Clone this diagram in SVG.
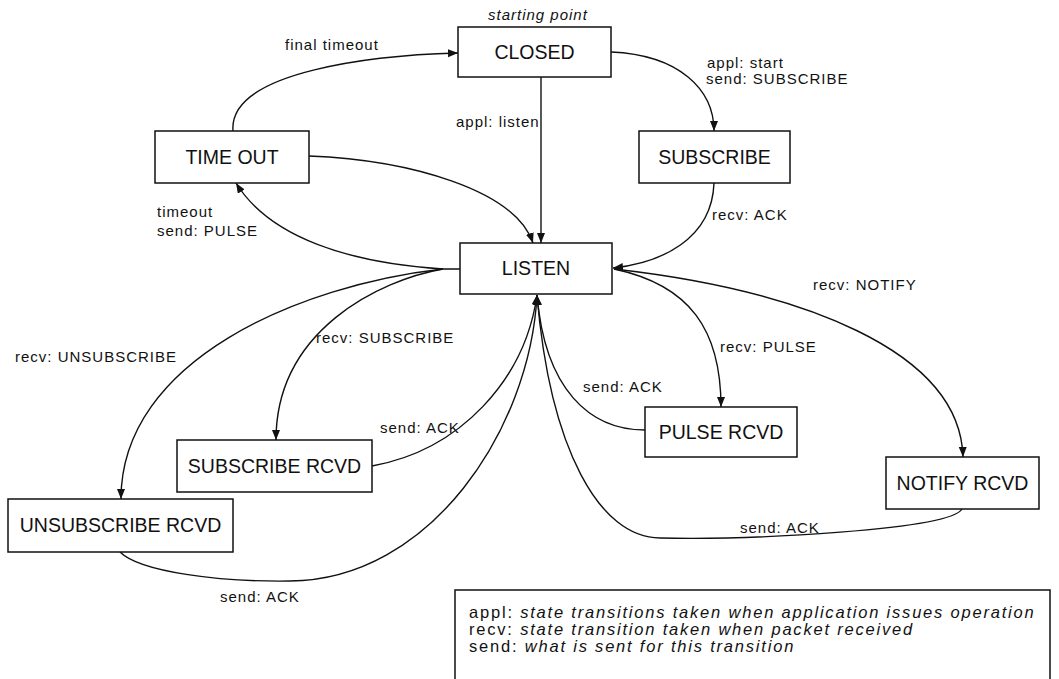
<svg xmlns="http://www.w3.org/2000/svg" width="1059" height="679" viewBox="0 0 1059 679">
  <style>
    .box { fill: #fff; stroke: #111; stroke-width: 1.5; }
    .node { font-family: "Liberation Sans", Arial, sans-serif; font-size: 19.5px; fill: #111; text-anchor: middle; }
    .lbl { font-family: "Liberation Sans", Arial, sans-serif; font-size: 15px; letter-spacing: 1px; fill: #111; }
    .edge { fill: none; stroke: #111; stroke-width: 1.4; }
    .arr { marker-end: url(#head); }
    .legend { font-family: "Liberation Sans", Arial, sans-serif; font-size: 16.5px; letter-spacing: 1.8px; fill: #111; }
    .it { font-style: italic; }
  </style>
  <defs>
    <marker id="head" markerUnits="userSpaceOnUse" markerWidth="11" markerHeight="9" refX="10" refY="4" orient="auto">
      <path d="M0,0 L10,4 L0,8 z" fill="#111"/>
    </marker>
  </defs>
  <rect width="1059" height="679" fill="#fff"/>

  <!-- transitions -->
  <g id="connectors">
    <!-- CLOSED -> LISTEN -->
    <path class="edge arr" d="M541,77 L541,243"/>
    <!-- TIME OUT -> LISTEN -->
    <path class="edge arr" d="M309,156 C 410,160 515,190 533,243"/>
    <!-- TIME OUT -> CLOSED -->
    <path class="edge arr" d="M233,131 C 228,70 380,55 458,53"/>
    <!-- LISTEN -> TIME OUT -->
    <path class="edge arr" d="M460,269 L443,269 C 350,263 270,238 236,183"/>
    <!-- CLOSED -> SUBSCRIBE -->
    <path class="edge arr" d="M611,52 C 680,55 714,90 714,131"/>
    <!-- SUBSCRIBE -> LISTEN -->
    <path class="edge arr" d="M714,183 C 712,240 660,263 613,268"/>
    <!-- LISTEN -> NOTIFY RCVD -->
    <path class="edge arr" d="M614,269 C 800,290 960,350 963,457"/>
    <!-- LISTEN -> PULSE RCVD -->
    <path class="edge arr" d="M614,269 C 690,285 721,330 721,407"/>
    <!-- PULSE RCVD -> LISTEN -->
    <path class="edge arr" d="M645,430 C 590,430 545,390 537,295"/>
    <!-- LISTEN -> SUBSCRIBE RCVD -->
    <path class="edge arr" d="M443,269 C 380,280 276,330 276,440"/>
    <!-- SUBSCRIBE RCVD -> LISTEN -->
    <path class="edge arr" d="M372,466 C 460,450 525,380 537,295"/>
    <!-- LISTEN -> UNSUBSCRIBE RCVD -->
    <path class="edge arr" d="M443,269 C 300,285 121,360 121,499"/>
    <!-- UNSUBSCRIBE RCVD -> LISTEN -->
    <path class="edge arr" d="M120,552 C 140,572 220,582 290,581 C 430,580 530,430 537,295"/>
    <!-- NOTIFY RCVD -> LISTEN -->
    <path class="edge arr" d="M962,509 C 950,530 750,540 660,538 C 600,538 550,450 537,295"/>
  </g>

  <!-- transition labels -->
  <g id="edge-labels">
    <text class="lbl it" x="488" y="20">starting point</text>
    <text class="lbl" x="285" y="50">final timeout</text>
    <text class="lbl" x="456" y="127">appl: listen</text>
    <text class="lbl" x="707" y="68">appl: start</text>
    <text class="lbl" x="706" y="84">send: SUBSCRIBE</text>
    <text class="lbl" x="157" y="217">timeout</text>
    <text class="lbl" x="157" y="236">send: PULSE</text>
    <text class="lbl" x="712" y="220">recv: ACK</text>
    <text class="lbl" x="813" y="290">recv: NOTIFY</text>
    <text class="lbl" x="720" y="352">recv: PULSE</text>
    <text class="lbl" x="583" y="392">send: ACK</text>
    <text class="lbl" x="316" y="343">recv: SUBSCRIBE</text>
    <text class="lbl" x="380" y="433">send: ACK</text>
    <text class="lbl" x="15" y="362">recv: UNSUBSCRIBE</text>
    <text class="lbl" x="220" y="602">send: ACK</text>
    <text class="lbl" x="740" y="533">send: ACK</text>
  </g>

  <!-- states -->
  <g id="closed">
    <rect class="box" x="458" y="27" width="153" height="50"/>
    <text class="node" x="534.5" y="59">CLOSED</text>
  </g>
  <g id="time-out">
    <rect class="box" x="155" y="131" width="154" height="52"/>
    <text class="node" x="232" y="164">TIME OUT</text>
  </g>
  <g id="subscribe">
    <rect class="box" x="639" y="131" width="151" height="52"/>
    <text class="node" x="714.5" y="164">SUBSCRIBE</text>
  </g>
  <g id="listen">
    <rect class="box" x="460" y="243" width="152" height="51"/>
    <text class="node" x="536" y="275">LISTEN</text>
  </g>
  <g id="pulse-rcvd">
    <rect class="box" x="645" y="407" width="152" height="50"/>
    <text class="node" x="721" y="439">PULSE RCVD</text>
  </g>
  <g id="notify-rcvd">
    <rect class="box" x="886" y="457" width="153" height="52"/>
    <text class="node" x="962.5" y="490">NOTIFY RCVD</text>
  </g>
  <g id="subscribe-rcvd">
    <rect class="box" x="177" y="440" width="195" height="52"/>
    <text class="node" x="274.5" y="473">SUBSCRIBE RCVD</text>
  </g>
  <g id="unsubscribe-rcvd">
    <rect class="box" x="8" y="499" width="225" height="53"/>
    <text class="node" x="120.5" y="532">UNSUBSCRIBE RCVD</text>
  </g>

  <!-- legend -->
  <g id="legend">
    <rect class="box" x="455" y="590" width="595" height="100"/>
    <text class="legend" x="469" y="618">appl: <tspan class="it">state transitions taken when application issues operation</tspan></text>
    <text class="legend" x="469" y="635">recv: <tspan class="it">state transition taken when packet received</tspan></text>
    <text class="legend" x="469" y="652">send: <tspan class="it">what is sent for this transition</tspan></text>
  </g>
</svg>
